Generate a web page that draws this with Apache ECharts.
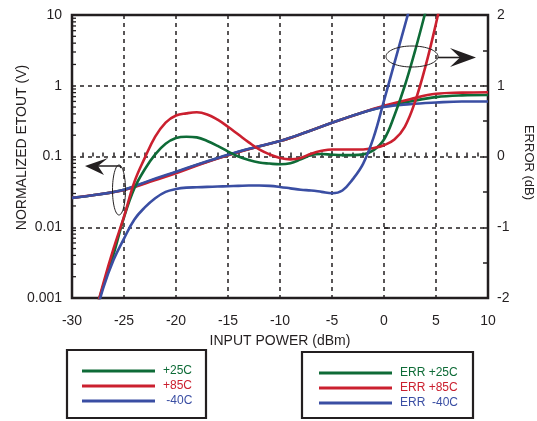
<!DOCTYPE html>
<html lang="en">
<head>
<meta charset="UTF-8">
<title>Normalized ETOUT and Error vs Input Power</title>
<script src="https://cdn.jsdelivr.net/npm/echarts@6/dist/echarts.min.js"></script>
<style>
    body { margin: 0; background: #fff; }
    #main { width: 537px; height: 421px; }
</style>
</head>
<body>
<div id="main"></div>
<script>
    // input power (dBm) for the ETOUT curves
    var etX = [-30, -27.5, -25, -22.5, -20, -17.5, -15, -12.5, -10, -7.5, -5, -2.5, 0, 2.5, 5, 7.5, 10];
    // normalized ETOUT (V), left log axis
    var et25  = [0.026, 0.029, 0.034, 0.045, 0.060, 0.080, 0.105, 0.133, 0.165, 0.22, 0.30, 0.40, 0.51, 0.60, 0.69, 0.73, 0.74];
    var et85  = [0.026, 0.029, 0.0335, 0.044, 0.058, 0.079, 0.104, 0.133, 0.165, 0.22, 0.30, 0.40, 0.52, 0.645, 0.77, 0.80, 0.81];
    var etM40 = [0.026, 0.029, 0.034, 0.046, 0.061, 0.081, 0.106, 0.134, 0.166, 0.22, 0.30, 0.40, 0.50, 0.55, 0.58, 0.60, 0.60];

    // input power (dBm) for the error curves
    var errX = [-28, -27, -26, -25, -24, -23, -22, -21, -20, -19, -18, -17, -16, -15, -14, -13, -12,
                -11, -10, -9, -8, -7, -6, -5, -4, -3, -2, -1, 0, 1, 2, 3, 4, 5, 6];
    // error (dB), right axis
    var err25  = [-2.3, -1.83, -1.38, -0.86, -0.45, -0.18, 0.03, 0.18, 0.26, 0.28, 0.27, 0.22, 0.15, 0.07, 0.0, -0.05, -0.085,
                  -0.10, -0.11, -0.095, -0.04, 0.02, 0.035, 0.025, 0.02, 0.02, 0.03, 0.09, 0.24, 0.58, 1.0, 1.5, 2.05, 2.6, 3.2];
    var err85  = [-2.35, -1.8, -1.3, -0.85, -0.36, -0.02, 0.28, 0.48, 0.58, 0.61, 0.625, 0.595, 0.52, 0.42, 0.31, 0.20, 0.10,
                  0.03, -0.02, -0.04, -0.02, 0.04, 0.08, 0.1, 0.1, 0.1, 0.1, 0.12, 0.16, 0.24, 0.42, 0.78, 1.28, 1.88, 2.55];
    var errM40 = [-2.4, -1.86, -1.46, -1.16, -0.89, -0.72, -0.59, -0.50, -0.46, -0.44, -0.435, -0.43, -0.425, -0.42, -0.415, -0.41, -0.41,
                  -0.415, -0.43, -0.45, -0.47, -0.48, -0.50, -0.52, -0.48, -0.32, -0.10, 0.27, 0.79, 1.32, 1.85, 2.38, 2.9, 3.4, 3.9];

    var logMinor = [2, 3, 4, 5, 6, 7, 8, 9];
    var decades = [0.001, 0.01, 0.1, 1];

    var GREEN = '#0e6b37';
    var RED = '#cb202f';
    var BLUE = '#3a4ea3';
    var INK = '#231f20';
    var FONT = 'Liberation Sans, Arial, sans-serif';

    function pairs(xs, ys) {
        return xs.map(function (x, i) { return [x, ys[i]]; });
    }

    function lineSeries(name, color, xs, ys, axis) {
        return {
            name: name,
            type: 'line',
            yAxisIndex: axis,
            data: pairs(xs, ys),
            smooth: 0.4,
            showSymbol: false,
            symbol: 'none',
            clip: true,
            color: color,
            lineStyle: { color: color, width: 2.6 },
            emphasis: { disabled: true },
            z: axis === 0 ? 3 : 4
        };
    }

    var chart = echarts.init(document.getElementById('main'));

    var legendText = { fontSize: 12, fontFamily: FONT, padding: [0, 0, 0, 3] };

    chart.setOption({
        animation: false,
        backgroundColor: '#fff',
        grid: {
            left: 72, right: 49, top: 15, bottom: 123,
            containLabel: false,
            outerBoundsMode: 'none',
            show: true, borderColor: INK, borderWidth: 2.5, backgroundColor: 'transparent'
        },
        xAxis: {
            type: 'value',
            min: -30, max: 10, interval: 5,
            name: 'INPUT POWER (dBm)',
            nameLocation: 'middle',
            nameGap: 36,
            nameMoveOverlap: false,
            nameTextStyle: { fontSize: 14, fontFamily: FONT, color: INK },
            axisLine: { show: false },
            axisTick: { show: true, inside: true, length: 4, lineStyle: { color: INK, width: 1.5 } },
            minorTick: { show: true, splitNumber: 5, length: 4, lineStyle: { color: INK, width: 1.5 } },
            axisLabel: { fontSize: 14, fontFamily: FONT, color: INK, margin: 16 },
            splitLine: { show: true, lineStyle: { color: INK, width: 1.5, type: [4, 4] } }
        },
        yAxis: [{
            type: 'log',
            logBase: 10,
            min: 0.001, max: 10,
            name: 'NORMALIZED ETOUT (V)',
            nameLocation: 'middle',
            nameGap: 43,
            nameMoveOverlap: false,
            nameTextStyle: { fontSize: 14, fontFamily: FONT, color: INK, padding: [0, 0, 0, 18] },
            axisLine: { show: false },
            axisTick: { show: true, inside: true, length: 6, lineStyle: { color: INK, width: 1.5 } },
            axisLabel: { fontSize: 14, fontFamily: FONT, color: INK, margin: 10 },
            splitLine: { show: true, lineStyle: { color: INK, width: 1.5, type: [4, 4] } }
        }, {
            type: 'value',
            position: 'right',
            min: -2, max: 2, interval: 1,
            name: 'ERROR (dB)',
            nameLocation: 'middle',
            nameRotate: -90,
            nameGap: 34,
            nameMoveOverlap: false,
            nameTextStyle: { fontSize: 13, fontFamily: FONT, color: INK, padding: [0, 0, 0, 12] },
            axisLine: { show: false },
            axisTick: { show: true, inside: true, length: 5, lineStyle: { color: INK, width: 1.5 } },
            minorTick: { show: true, splitNumber: 2, length: 5, lineStyle: { color: INK, width: 1.5 } },
            axisLabel: { fontSize: 14, fontFamily: FONT, color: INK, margin: 9 },
            splitLine: { show: false }
        }],
        legend: [{
            selectedMode: false,
            orient: 'vertical',
            left: 82, top: 365, padding: 0,
            icon: 'rect',
            itemWidth: 73, itemHeight: 3, itemGap: 3,
            textStyle: legendText,
            formatter: function (n) { return n === '-40C' ? ' -40C' : n; },
            data: [
                { name: '+25C', textStyle: { color: GREEN } },
                { name: '+85C', textStyle: { color: RED } },
                { name: '-40C', textStyle: { color: BLUE } }
            ]
        }, {
            selectedMode: false,
            orient: 'vertical',
            left: 319, top: 367, padding: 0,
            icon: 'rect',
            itemWidth: 73, itemHeight: 3, itemGap: 3,
            textStyle: legendText,
            formatter: function (n) { return n === 'ERR -40C' ? 'ERR  -40C' : n; },
            data: [
                { name: 'ERR +25C', textStyle: { color: GREEN } },
                { name: 'ERR +85C', textStyle: { color: RED } },
                { name: 'ERR -40C', textStyle: { color: BLUE } }
            ]
        }],
        series: [
            lineSeries('+25C', GREEN, etX, et25, 0),
            lineSeries('+85C', RED, etX, et85, 0),
            lineSeries('-40C', BLUE, etX, etM40, 0),
            lineSeries('ERR +25C', GREEN, errX, err25, 1),
            lineSeries('ERR +85C', RED, errX, err85, 1),
            lineSeries('ERR -40C', BLUE, errX, errM40, 1)
        ]
    });

    // log minor ticks on the left axis, legend boxes and the two callouts
    var xLeft = chart.convertToPixel({ xAxisIndex: 0 }, -30);
    var g = [];
    decades.forEach(function (d) {
        logMinor.forEach(function (m) {
            var y = chart.convertToPixel({ yAxisIndex: 0 }, d * m);
            g.push({ type: 'line', shape: { x1: xLeft, y1: y, x2: xLeft + 4, y2: y },
                     style: { stroke: INK, lineWidth: 1.3 }, z: 10 });
        });
    });

    g.push({ type: 'rect', shape: { x: 67, y: 350, width: 139, height: 68 },
             style: { fill: 'none', stroke: INK, lineWidth: 2.2 } });
    g.push({ type: 'rect', shape: { x: 302, y: 352, width: 171, height: 66 },
             style: { fill: 'none', stroke: INK, lineWidth: 2.2 } });

    // left callout: ellipse on the ETOUT curves, arrow to the left axis
    g.push({ type: 'ellipse', shape: { cx: 119, cy: 190, rx: 6.5, ry: 25 },
             style: { fill: 'none', stroke: INK, lineWidth: 1 }, z: 10 });
    g.push({ type: 'polyline', shape: { points: [[97, 166], [120, 166], [121, 168]] },
             style: { fill: 'none', stroke: INK, lineWidth: 1.6 }, z: 10 });
    g.push({ type: 'polygon', shape: { points: [[85, 166], [108, 158], [98, 166], [104, 175]] },
             style: { fill: INK }, z: 10 });

    // right callout: ellipse on the error curves, arrow to the right axis
    g.push({ type: 'ellipse', shape: { cx: 412, cy: 56.5, rx: 26, ry: 10.5 },
             style: { fill: 'none', stroke: INK, lineWidth: 1 }, z: 10 });
    g.push({ type: 'line', shape: { x1: 438, y1: 57.5, x2: 462, y2: 57.5 },
             style: { stroke: INK, lineWidth: 1.6 }, z: 10 });
    g.push({ type: 'polygon', shape: { points: [[476, 57.5], [450, 48], [460, 57.5], [450, 67]] },
             style: { fill: INK }, z: 10 });

    chart.setOption({ graphic: g });
</script>
</body>
</html>
